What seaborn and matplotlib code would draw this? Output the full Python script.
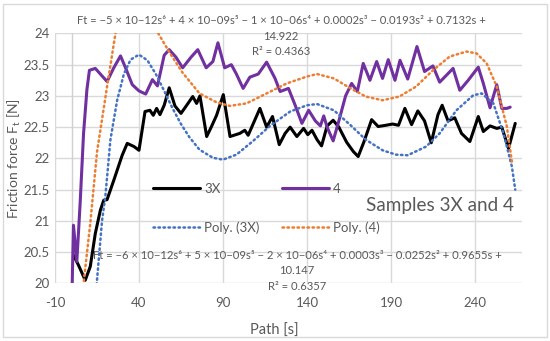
import numpy as np
import pandas as pd
import matplotlib
matplotlib.use('Agg')
import matplotlib.pyplot as plt
import seaborn as sns
from matplotlib.patches import Rectangle

# sample 3X (black line)
path_3x = [1, 4, 8, 11, 14, 17, 19, 21, 25, 30, 33, 37, 40, 43.6, 46.5, 48.5, 50.5, 52.5, 55, 58,
           61.4, 65, 68.4, 72, 74.3, 76.3, 80.3, 83, 86.2, 90.2, 94.2, 100, 103, 105, 112, 116,
           119.5, 123.5, 127, 130, 134, 138, 140.5, 143, 146, 148.7, 152, 155.6, 159, 163.6,
           167.6, 170.5, 174, 178.5, 182.4, 187, 191, 194.5, 198.3, 202.3, 206, 210, 214, 218,
           220.5, 224, 228, 232, 237, 242, 245, 249, 253, 256, 260, 264]
force_3x = [20.45, 20.29, 20.05, 20.27, 20.8, 21.17, 21.33, 21.34, 21.65, 22.05, 22.24, 22.19, 22.13,
            22.75, 22.77, 22.69, 22.8, 22.7, 22.85, 23.13, 22.84, 22.72, 22.85, 22.99, 22.88, 23.0,
            22.35, 22.5, 22.69, 23.02, 22.35, 22.4, 22.45, 22.37, 22.8, 22.5, 22.67, 22.22, 22.4,
            22.5, 22.35, 22.48, 22.38, 22.45, 22.3, 22.2, 22.52, 22.61, 22.5, 22.26, 22.11, 22.03,
            22.27, 22.62, 22.51, 22.53, 22.55, 22.53, 22.8, 22.54, 22.76, 22.6, 22.25, 22.7, 22.85,
            22.6, 22.65, 22.4, 22.27, 22.67, 22.43, 22.52, 22.48, 22.5, 22.16, 22.56]

# sample 4 (purple line)
path_4 = [0, 1, 3, 5, 7, 9, 10.5, 14, 17, 21, 25, 29, 32, 36, 40, 44, 48, 51, 55, 58, 62, 66, 71,
          75, 80, 84, 87, 91, 95, 98, 102, 106, 111, 116, 121, 124, 129, 133, 137, 141, 145, 148,
          150, 152, 155.6, 159, 163, 166.6, 170, 173.5, 177.5, 181.5, 185, 188.4, 192.4, 195.4,
          200, 205.5, 210, 215, 219, 227, 231, 236, 242, 245, 249, 253, 256, 259, 261]
force_4 = [19.7, 20.93, 20.35, 21.3, 22.4, 23.1, 23.41, 23.44, 23.35, 23.23, 23.45, 23.64, 23.45,
           23.18, 23.08, 23.03, 23.26, 23.16, 23.65, 23.74, 23.62, 23.45, 23.62, 23.74, 23.45,
           23.55, 23.85, 23.45, 23.5, 23.35, 23.12, 23.3, 23.35, 23.54, 23.28, 23.07, 23.12, 22.85,
           22.56, 22.77, 22.6, 22.52, 22.68, 22.5, 22.28, 22.6, 23.0, 23.2, 23.07, 23.52, 23.25,
           23.55, 23.28, 23.58, 23.25, 23.57, 23.27, 23.79, 23.39, 23.48, 23.22, 23.44, 23.09,
           23.25, 23.46, 23.2, 22.81, 23.18, 22.8, 22.8, 22.82]

# polynomial trendlines (order 6)
trend_path_3x = [12, 15, 18, 20, 23, 27, 31, 35, 40, 45, 50, 55, 60, 65, 70, 76, 84, 90, 98, 108,
                 118, 130, 140, 146, 156, 166, 175, 185, 193, 200, 211, 219, 229, 239, 244, 251,
                 257, 262, 264]
trend_3x = [19.1, 20.05, 21.0, 21.4, 22.3, 22.93, 23.35, 23.58, 23.66, 23.57, 23.35, 23.08, 22.8,
            22.55, 22.34, 22.14, 22.01, 21.98, 22.06, 22.28, 22.52, 22.75, 22.85, 22.87, 22.77,
            22.53, 22.3, 22.13, 22.06, 22.05, 22.19, 22.4, 22.77, 23.01, 23.04, 22.88, 22.4,
            21.87, 21.5]
trend_path_4 = [5, 7, 11, 15, 21, 26, 32, 38, 45, 51.5, 58.5, 66, 76, 86, 94, 104, 116, 128, 140,
                146, 156, 166, 175, 185, 195, 205, 215, 225, 235, 241, 247, 253, 259, 262]
trend_4 = [19.4, 20.0, 20.96, 22.1, 23.15, 24.0, 24.45, 24.6, 24.35, 24.0, 23.68, 23.37, 23.04,
           22.9, 22.84, 22.88, 23.04, 23.2, 23.31, 23.35, 23.28, 23.12, 22.99, 22.93, 22.99,
           23.15, 23.41, 23.63, 23.71, 23.68, 23.52, 23.15, 22.51, 21.95]

x_ticks = [-10, 40, 90, 140, 190, 240]
y_ticks = [20, 20.5, 21, 21.5, 22, 22.5, 23, 23.5, 24]
y_tick_labels = ['20', '20.5', '21', '21.5', '22', '22.5', '23', '23.5', '24']

eq_top = ('Ft = \u22125 \u00d7 10\u221212s\u2076 + 4 \u00d7 10\u221209s\u2075 \u2212 1 \u00d7 10\u221206s\u2074'
          ' + 0.0002s\u00b3 \u2212 0.0193s\u00b2 + 0.7132s +\n14.922\nR\u00b2 = 0.4363')
eq_bottom = ('Ft = \u22126 \u00d7 10\u221212s\u2076 + 5 \u00d7 10\u221209s\u2075 \u2212 2 \u00d7 10\u221206s\u2074'
             ' + 0.0003s\u00b3 \u2212 0.0252s\u00b2 + 0.9655s +\n10.147\nR\u00b2 = 0.6357')

sns.set_theme(style='white')
plt.rcParams['font.family'] = ['Lato', 'DejaVu Sans']
grey = '#595959'

df_3x = pd.DataFrame({'path': path_3x, 'force': force_3x})
df_4 = pd.DataFrame({'path': path_4, 'force': force_4})
df_t3x = pd.DataFrame({'path': trend_path_3x, 'force': trend_3x})
df_t4 = pd.DataFrame({'path': trend_path_4, 'force': trend_4})

fig = plt.figure(figsize=(5.5, 3.41), dpi=100)
ax = fig.add_axes([0.1, 0.169, 0.849, 0.733])

sns.lineplot(data=df_3x, x='path', y='force', ax=ax, color='black', lw=2.2,
             sort=False, estimator=None, label='3X', zorder=3)
sns.lineplot(data=df_4, x='path', y='force', ax=ax, color='#7030A0', lw=2.2,
             sort=False, estimator=None, label='4', zorder=3)
sns.lineplot(data=df_t3x, x='path', y='force', ax=ax, color='#4472C4', lw=1.8,
             sort=False, estimator=None, label='Poly. (3X)', zorder=4)
sns.lineplot(data=df_t4, x='path', y='force', ax=ax, color='#ED7D31', lw=1.8,
             sort=False, estimator=None, label='Poly. (4)', zorder=4)
lines = ax.get_lines()
for ln in lines[2:4]:
    ln.set_linestyle((0, (0.6, 1.4)))
    ln.set_dash_capstyle('round')
for ln in lines[:2]:
    ln.set_solid_joinstyle('round')

ax.set_xlim(-10, 268)
ax.set_ylim(20, 24)
ax.set_xticks(x_ticks)
ax.set_xticklabels([str(t) for t in x_ticks])
ax.set_yticks(y_ticks)
ax.set_yticklabels(y_tick_labels)
ax.grid(True, color='#D9D9D9', lw=1)
ax.axvline(0, color='#D0D0D0', lw=1, zorder=1)
for s in ax.spines.values():
    s.set_visible(False)
ax.tick_params(axis='both', colors=grey, labelsize=9.5, length=0, pad=4)
ax.tick_params(axis='x', pad=10)
ax.set_xlabel('Path [s]', color=grey, fontsize=10.5)
ax.set_ylabel('Friction force F$_\\mathregular{t}$ [N]', color=grey, fontsize=10)
ax.xaxis.set_label_coords(0.47, -0.16)
ax.yaxis.set_label_coords(-0.069, 0.5)

handles, labels = ax.get_legend_handles_labels()
order = [0, 2, 1, 3]
ax.legend([handles[i] for i in order], [labels[i] for i in order], ncol=2,
          loc='upper left', bbox_to_anchor=(146 / 550, 1 - 176 / 341),
          bbox_transform=fig.transFigure, frameon=False, fontsize=9.5,
          labelcolor=grey, handlelength=3.6, handletextpad=0.3,
          columnspacing=1.7, labelspacing=2.0, borderpad=0)

fig.text(440 / 550, 1 - 205 / 341, 'Samples 3X and 4', fontsize=13.6, color=grey,
         ha='center', va='center')
fig.text(281 / 550, 1 - 15 / 341, eq_top, fontsize=8.1, color=grey, ha='center',
         va='top', multialignment='center', linespacing=1.5)
fig.text(297 / 550, 1 - 250 / 341, eq_bottom, fontsize=8.1, color=grey, ha='center',
         va='top', multialignment='center', linespacing=1.5)

fig.patches.append(Rectangle((3 / 550, 4 / 341), 544 / 550, 333 / 341, transform=fig.transFigure,
                             fill=False, edgecolor='#D9D9D9', lw=1))

fig.savefig('out.png', dpi=100)
